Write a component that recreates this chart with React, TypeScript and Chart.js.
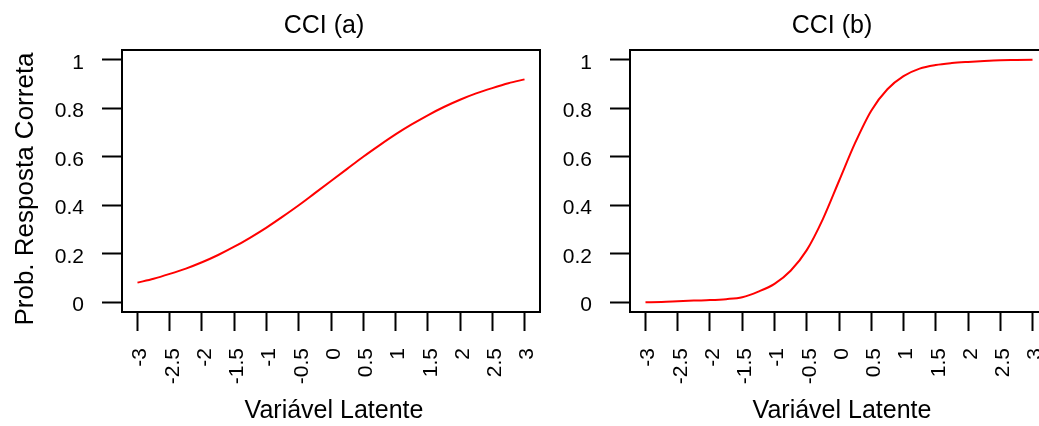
import React, { useEffect, useRef } from 'react';
import { Chart, registerables } from 'chart.js';

Chart.register(...registerables);

// ---- data ----
const LATENT = [-3, -2.75, -2.5, -2.25, -2, -1.75, -1.5, -1.25, -1, -0.75, -0.5, -0.25, 0, 0.25, 0.5, 0.75, 1, 1.25, 1.5, 1.75, 2, 2.25, 2.5, 2.75, 3];
const CCI_A = [0.081, 0.097, 0.117, 0.139, 0.165, 0.195, 0.229, 0.267, 0.308, 0.353, 0.4, 0.45, 0.5, 0.55, 0.6, 0.647, 0.692, 0.733, 0.771, 0.805, 0.835, 0.861, 0.883, 0.903, 0.919];
const CCI_B = [0.0, 0.001, 0.004, 0.007, 0.009, 0.013, 0.021, 0.044, 0.076, 0.13, 0.215, 0.343, 0.5, 0.657, 0.79, 0.878, 0.932, 0.963, 0.978, 0.986, 0.991, 0.995, 0.998, 0.999, 1.0];

const X_TICKS = [-3, -2.5, -2, -1.5, -1, -0.5, 0, 0.5, 1, 1.5, 2, 2.5, 3];
const X_TICK_LABELS = ['-3', '-2.5', '-2', '-1.5', '-1', '-0.5', '0', '0.5', '1', '1.5', '2', '2.5', '3'];
const Y_TICKS = [0, 0.2, 0.4, 0.6, 0.8, 1];
const Y_TICK_LABELS = ['0', '0.2', '0.4', '0.6', '0.8', '1'];

const TITLES = ['CCI (a)', 'CCI (b)'];
const X_LABEL = 'Variável Latente';
const Y_LABEL = 'Prob. Resposta Correta';

const FONT = "'Liberation Sans', Arial, Helvetica, sans-serif";

type PanelProps = {
  values: number[];
  title: string;
  yLabel: string | null;
  left: number;
  width: number;
  yAxisWidth: number;
  padRight: number;
};

function Panel({ values, title, yLabel, left, width, yAxisWidth, padRight }: PanelProps) {
  const ref = useRef<HTMLCanvasElement | null>(null);

  useEffect(() => {
    const canvas = ref.current;
    if (!canvas) return;

    const decor = {
      id: 'rdecor',
      afterDraw(chart: any) {
        const { ctx, chartArea: a, scales } = chart;
        ctx.save();
        ctx.strokeStyle = '#000';
        ctx.lineWidth = 2;
        ctx.strokeRect(a.left, a.top, a.right - a.left, a.bottom - a.top);
        const cx = scales.x.getPixelForValue(0);
        ctx.fillStyle = '#000';
        ctx.textAlign = 'center';
        ctx.textBaseline = 'alphabetic';
        ctx.font = `25px ${FONT}`;
        ctx.fillText(title, cx - 7, 33);
        ctx.fillText(X_LABEL, cx + 3, 418);
        if (yLabel) {
          ctx.translate(33, (a.top + a.bottom) / 2 + 8);
          ctx.rotate(-Math.PI / 2);
          ctx.font = `26px ${FONT}`;
          ctx.fillText(yLabel, 0, 0);
        }
        ctx.restore();
      },
    };

    const chart = new Chart(canvas, {
      type: 'line',
      data: {
        datasets: [
          {
            data: LATENT.map((x, i) => ({ x, y: values[i] })),
            borderColor: '#ff0000',
            borderWidth: 2,
            pointRadius: 0,
            fill: false,
            cubicInterpolationMode: 'monotone',
          },
        ],
      },
      options: {
        animation: false,
        responsive: false,
        devicePixelRatio: 1,
        layout: { padding: { left: 0, right: padRight, top: 50, bottom: 0 } },
        plugins: { legend: { display: false }, tooltip: { enabled: false }, title: { display: false } },
        scales: {
          x: {
            type: 'linear',
            min: -3.24,
            max: 3.24,
            afterBuildTicks: (s: any) => {
              s.ticks = X_TICKS.map((v) => ({ value: v }));
            },
            afterFit: (s: any) => {
              s.height = 114;
              s.paddingLeft = 0;
              s.paddingRight = 0;
            },
            grid: { drawOnChartArea: false, drawTicks: true, tickLength: 19, tickWidth: 2, tickColor: '#000', color: '#000' },
            border: { display: false },
            ticks: {
              autoSkip: false,
              minRotation: 90,
              maxRotation: 90,
              padding: 17,
              labelOffset: 3,
              color: '#000',
              font: { family: FONT, size: 21 },
              callback: (v: any) => {
                const i = X_TICKS.indexOf(Number(v));
                return i >= 0 ? X_TICK_LABELS[i] : '';
              },
            },
          },
          y: {
            type: 'linear',
            min: -0.04,
            max: 1.04,
            afterBuildTicks: (s: any) => {
              s.ticks = Y_TICKS.map((v) => ({ value: v }));
            },
            afterFit: (s: any) => {
              s.width = yAxisWidth;
              s.paddingTop = 0;
              s.paddingBottom = 0;
            },
            grid: { drawOnChartArea: false, drawTicks: true, tickLength: 20, tickWidth: 2, tickColor: '#000', color: '#000' },
            border: { display: false },
            ticks: {
              padding: 18,
              labelOffset: 3,
              color: '#000',
              font: { family: FONT, size: 21 },
              callback: (v: any) => {
                const i = Y_TICKS.indexOf(Number(v));
                return i >= 0 ? Y_TICK_LABELS[i] : '';
              },
            },
          },
        },
      },
      plugins: [decor],
    } as any);

    return () => chart.destroy();
  }, [values, title, yLabel, yAxisWidth, padRight]);

  return (
    <canvas
      ref={ref}
      width={width}
      height={426}
      style={{ position: 'absolute', left, top: 0, width, height: 426, display: 'block' }}
    />
  );
}

export default function App() {
  return (
    <div
      style={{
        position: 'absolute',
        left: 0,
        top: 0,
        width: 1039,
        height: 426,
        overflow: 'hidden',
        background: '#fff',
      }}
    >
      <Panel values={CCI_A} title={TITLES[0]} yLabel={Y_LABEL} left={0} width={560} yAxisWidth={122} padRight={20} />
      <Panel values={CCI_B} title={TITLES[1]} yLabel={null} left={560} width={520} yAxisWidth={70} padRight={32} />
    </div>
  );
}
